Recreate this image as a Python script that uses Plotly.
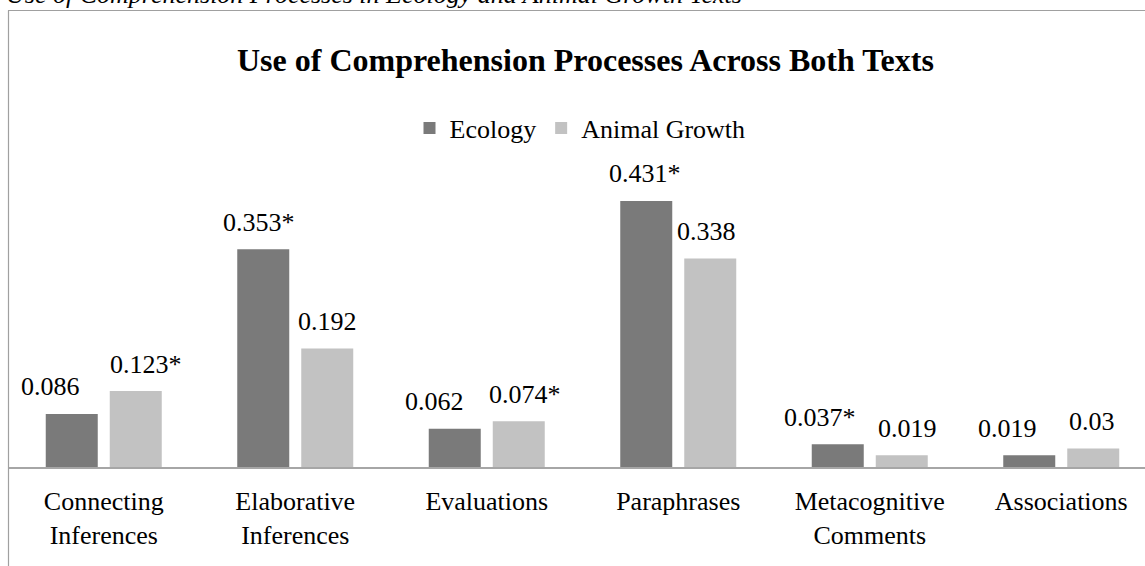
import plotly.graph_objects as go

categories = ["Connecting<br>Inferences", "Elaborative<br>Inferences", "Evaluations",
              "Paraphrases", "Metacognitive<br>Comments", "Associations"]
ecology = [0.086, 0.353, 0.062, 0.431, 0.037, 0.019]
animal_growth = [0.123, 0.192, 0.074, 0.338, 0.019, 0.030]
ecology_labels = ["0.086", "0.353*", "0.062", "0.431*", "0.037*", "0.019"]
animal_labels = ["0.123*", "0.192", "0.074*", "0.338", "0.019", "0.03"]

# label nudges (pixels) as placed in the original
ecology_dx = [-21, -4, -20, -1, -18, -22]
animal_dx = [10, 0, 6, -4, 6, -1]

FONT = "Liberation Serif"
W, H = 1145, 566
L, T, B = 8, 150, 99
plot_h = H - T - B
px_per_unit = 617.2
cat_px = 191.5

fig = go.Figure()
fig.add_trace(go.Bar(name="Ecology", x=categories, y=ecology,
                     marker=dict(color="#7a7a7a", line=dict(width=0))))
fig.add_trace(go.Bar(name="Animal Growth", x=categories, y=animal_growth,
                     marker=dict(color="#c2c2c2", line=dict(width=0))))

annotations = []
for c, v, t, dx in zip(categories, ecology, ecology_labels, ecology_dx):
    annotations.append(dict(x=c, y=v, xref="x", yref="y", text=t, showarrow=False,
                            xshift=-32 + dx, yshift=27, yanchor="middle",
                            font=dict(family=FONT, size=26, color="#000")))
for c, v, t, dx in zip(categories, animal_growth, animal_labels, animal_dx):
    annotations.append(dict(x=c, y=v, xref="x", yref="y", text=t, showarrow=False,
                            xshift=32 + dx, yshift=27, yanchor="middle",
                            font=dict(family=FONT, size=26, color="#000")))

def py(pix):
    return (H - B - pix) / plot_h

def pxx(pix):
    return (pix - L) / (W - L)

# cropped caption at very top
annotations.append(dict(x=pxx(4), y=py(-5), xref="paper", yref="paper",
                        text="<i>Use of Comprehension Processes in Ecology and Animal Growth Texts</i>",
                        showarrow=False, xanchor="left", yanchor="middle",
                        font=dict(family=FONT, size=26, color="#000")))
# chart title
annotations.append(dict(x=pxx(585), y=py(60), xref="paper", yref="paper",
                        text="<b>Use of Comprehension Processes Across Both Texts</b>",
                        showarrow=False, xanchor="center", yanchor="middle",
                        font=dict(family=FONT, size=32, color="#000")))

shapes = [
    dict(type="line", xref="paper", yref="paper", x0=0, x1=1.01, y0=py(10.5), y1=py(10.5),
         line=dict(color="#a0a0a0", width=1.2)),
    dict(type="line", xref="paper", yref="paper", x0=pxx(8.5), x1=pxx(8.5), y0=py(10.5), y1=py(570),
         line=dict(color="#a0a0a0", width=1.2)),
]

fig.update_layout(
    width=W, height=H,
    margin=dict(l=L, r=0, t=T, b=B),
    paper_bgcolor="white", plot_bgcolor="white",
    barmode="group", bargap=1 - 128 / cat_px, bargroupgap=0.1875,
    font=dict(family=FONT, size=26, color="#000"),
    showlegend=True,
    legend=dict(orientation="h", x=pxx(580), xanchor="center", y=py(128), yanchor="middle",
                font=dict(family=FONT, size=26, color="#000"), bgcolor="rgba(0,0,0,0)",
                itemwidth=30, tracegroupgap=0),
    annotations=annotations,
    shapes=shapes,
)
fig.update_xaxes(type="category", range=[-0.5, -0.5 + (W - L) / cat_px],
                 showline=True, linecolor="#a6a6a6", linewidth=1.5,
                 ticks="", showgrid=False, zeroline=False, automargin=False,
                 ticklabelstandoff=10,
                 tickfont=dict(family=FONT, size=26, color="#000"))
fig.update_yaxes(range=[0, plot_h / px_per_unit], visible=False, showgrid=False,
                 zeroline=False, automargin=False)

fig.write_html("out.html", config={"displayModeBar": False},
               post_script="document.body.style.margin='0';document.body.style.padding='0';")
